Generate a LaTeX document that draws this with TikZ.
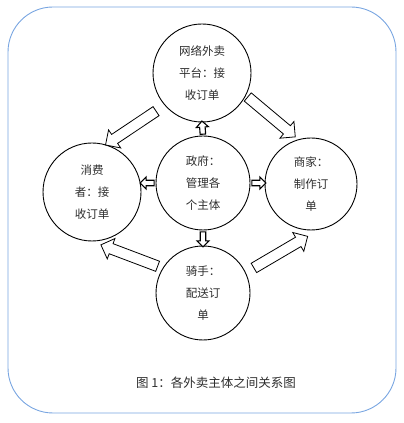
\documentclass[tikz,border=0pt]{standalone}
\usepackage{fontspec}
\newfontfamily\cjk{Noto Sans CJK SC}
\usepackage{tikz}
\usetikzlibrary{shapes.arrows, arrows.meta, calc, positioning}
\definecolor{frameBlue}{RGB}{120,165,225}
\definecolor{inkGray}{RGB}{45,45,45}

\begin{document}
\begin{tikzpicture}[
    x=1pt, y=1pt,
    font=\cjk\fontsize{11.5}{22}\selectfont,
    actor/.style={circle, draw=black, line width=0.9pt, minimum size=#1, inner sep=0pt, align=center, text=inkGray},
    bigarrow/.style={single arrow, draw=black, line width=0.8pt, fill=white, inner xsep=0pt, inner ysep=5pt,
        single arrow head extend=5.5pt, single arrow tip angle=90},
    govarrow/.style={single arrow, draw=black, line width=1.1pt, fill=white, inner xsep=0pt, inner ysep=2.2pt,
        single arrow head extend=3.3pt, single arrow tip angle=90}
]
    \useasboundingbox (0,0) rectangle (404,423);
    % Outer frame
    \draw [frameBlue, line width=0.9pt, rounded corners=45pt] (8,10) rectangle (396,416);

    % Actors
    \node [actor=98pt] (web) at (202,350) {网络外卖\\平台：接\\收订单};
    \node [actor=94pt] (gov) at (203,240) {政府：\\管理各\\个主体};
    \node [actor=98pt] (user) at (92,231) {消费\\者：接\\收订单};
    \node [actor=92pt] (shop) at (311,239) {商家：\\制作订\\单};
    \node [actor=94pt] (rider) at (203,130) {骑手：\\配送订\\单};

    % Order flow (hollow block arrows)
    \foreach \src/\sa/\sd/\dst/\da/\dd in {
        web/220/57/user/72/51,
        web/-27/49/shop/110/52,
        rider/149/50/user/-78/55,
        rider/26/54/shop/264/54
    } {
        \coordinate (s-\src-\dst) at ($(\src.center)+(\sa:\sd)$);
        \coordinate (t-\src-\dst) at ($(\dst.center)+(\da:\dd)$);
        \path let \p1=($(t-\src-\dst)-(s-\src-\dst)$), \n1={atan2(\y1,\x1)}, \n2={veclen(\x1,\y1)} in
            node [bigarrow, minimum height=\n2, rotate=\n1] (arr-\src-\dst) at ($(s-\src-\dst)!0.5!(t-\src-\dst)$) {};
    }

    % Government oversight
    \coordinate (g-web) at (web.south);
    \coordinate (g-user) at (gov.west -| user.east);
    \coordinate (g-shop) at (gov.east -| shop.west);
    \coordinate (g-rider) at (rider.north);
    \foreach \side/\dst in {north/web, west/user, east/shop, south/rider} {
        \path let \p1=($(g-\dst)-(gov.\side)$), \n1={atan2(\y1,\x1)}, \n2={veclen(\x1,\y1)} in
            node [govarrow, minimum height=\n2, rotate=\n1] (ctl-\dst) at ($(gov.\side)!0.5!(g-\dst)$) {};
    }

    % Caption
    \node [font=\cjk\fontsize{12.5}{14}\selectfont, text=inkGray] (caption) at (216,40) {图 1：各外卖主体之间关系图};
\end{tikzpicture}
\end{document}
